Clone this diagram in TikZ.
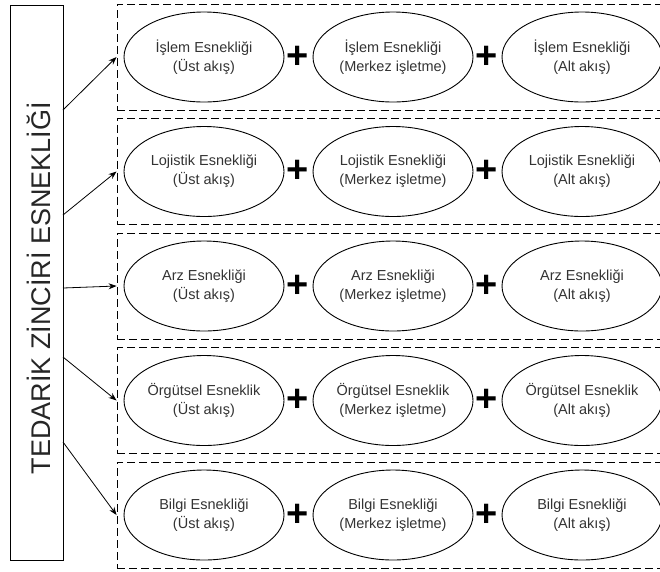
\documentclass[tikz,border=0pt]{standalone}
\usepackage{fontspec}
\setmainfont{Liberation Sans}
\usetikzlibrary{arrows.meta,shapes.geometric}

\begin{document}
\begin{tikzpicture}[x=1pt,y=-1pt,
    flex/.style={ellipse, draw, line width=0.9pt, minimum width=160pt, minimum height=90pt,
      inner sep=0pt, align=center, font=\fontsize{14.5}{19}\selectfont, text=black!80},
    rowbox/.style={draw, dash pattern=on 8pt off 4pt, line width=0.9pt,
      minimum width=550pt, minimum height=106pt, inner sep=0pt},
    plus/.style={font=\fontsize{38}{38}\selectfont\bfseries, inner sep=0pt},
    link/.style={-{Stealth[length=8pt,width=6pt]}, line width=0.8pt}]
    \useasboundingbox (0,0) rectangle (660,571);
    % left box
    \node[draw, line width=1pt, minimum width=53pt, minimum height=555pt, inner sep=0pt] (tz) at (36.5,282.5) {};
    \node[rotate=90, font=\fontsize{27}{27}\selectfont, text=black!85] (tztext) at (39,288) {TEDARİK ZİNCİRİ ESNEKLİĞİ};
    % rows
    \foreach \name/\y/\from [count=\i] in {İşlem Esnekliği/57/110, Lojistik Esnekliği/171.5/215,
        Arz Esnekliği/286/288, Örgütsel Esneklik/400.5/357, Bilgi Esnekliği/515/442} {
      \node[rowbox] (row\i) at (392,\y) {};
      \node[flex] (up\i) at (204,\y) {\name\\(Üst akış)};
      \node[flex] (mid\i) at (393,\y) {\name\\(Merkez işletme)};
      \node[flex] (down\i) at (582,\y) {\name\\(Alt akış)};
      \node[plus] (pa\i) at (298,\y) {+};
      \node[plus] (pb\i) at (487,\y) {+};
      \coordinate (out\i) at (63,\from);
      \draw[link] (out\i) -- (row\i.west);
    }
\end{tikzpicture}
\end{document}
